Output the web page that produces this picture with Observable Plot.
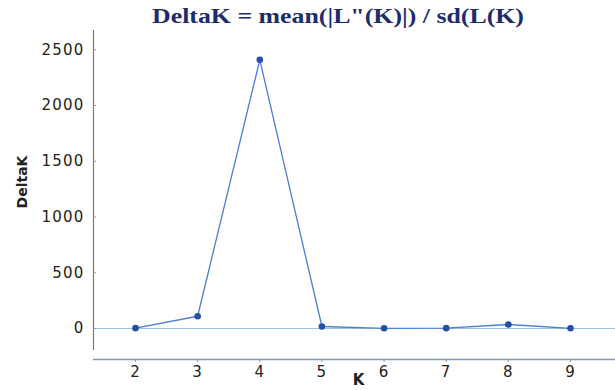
<!DOCTYPE html>
<html>
<head>
<meta charset="utf-8">
<script src="https://cdn.jsdelivr.net/npm/d3@7"></script>
<script src="https://cdn.jsdelivr.net/npm/@observablehq/plot@0.6"></script>
<style>
  html, body { margin: 0; padding: 0; background: #fff; }
  #wrap { width: 615px; height: 390px; position: relative; overflow: hidden; }
  #title { height: 30px; width: 615px; position: relative; }
  #title span {
    position: absolute; left: 338px; top: 4px;
    transform: translateX(-50%) scaleX(1.23);
    font-family: "Liberation Serif", "Times New Roman", serif;
    font-weight: bold; font-size: 21px; color: #1d2c6b; white-space: nowrap; line-height: 24px;
  }
  #chart svg { display: block; overflow: visible; }
  #chart svg g[aria-label$="tick label"] text { letter-spacing: 1.2px; }
</style>
</head>
<body>
<div id="wrap">
  <div id="title"><span>DeltaK = mean(|L"(K)|) / sd(L(K)</span></div>
  <div id="chart"></div>
</div>
<script>
const kValues = [2, 3, 4, 5, 6, 7, 8, 9];
const deltaK = [3, 110, 2410, 18, 2, 3, 36, 2];
const yTicks = [0, 500, 1000, 1500, 2000, 2500];
const xDomain = [1.324, 9.724];
const yDomain = [-278, 2673];
const yAxisExtent = [-197, 2673];

const data = kValues.map((k, i) => ({K: k, DeltaK: deltaK[i]}));

const chart = Plot.plot({
  width: 615,
  height: 360,
  marginTop: 0,
  marginBottom: 31,
  marginLeft: 93,
  marginRight: 0,
  style: {fontFamily: "'DejaVu Sans', sans-serif", fontSize: "15px", color: "#222", background: "#fff"},
  x: {type: "linear", domain: xDomain},
  y: {type: "linear", domain: yDomain},
  marks: [
    Plot.ruleY([0], {stroke: "#9fc4e2", strokeWidth: 1}),
    Plot.ruleY([yDomain[0]], {stroke: "#7f9bb3", strokeWidth: 1.5}),
    Plot.ruleX([xDomain[0]], {y1: yAxisExtent[0], y2: yAxisExtent[1], stroke: "#8a7468", strokeWidth: 1.2}),
    Plot.axisY({ticks: yTicks, tickSize: 0, tickPadding: 9, tickFormat: d => String(d), label: null, fill: "#222"}),
    Plot.ruleY(yTicks, {x1: xDomain[0], x2: xDomain[0], insetRight: -3, stroke: "#999", strokeWidth: 1}),
    Plot.axisX({ticks: kValues, tickSize: 3, tickPadding: 4, tickFormat: d => String(d), label: null, stroke: "#999", fill: "#222"}),
    Plot.line(data, {x: "K", y: "DeltaK", stroke: "#4a7fd6", strokeWidth: 1.3}),
    Plot.dot(data, {x: "K", y: "DeltaK", r: 3.3, fill: "#2450a8", stroke: "none"}),
    Plot.text(["K"], {frameAnchor: "bottom", textAnchor: "middle", lineAnchor: "middle", dx: 4, dy: 21, fontSize: 15, fontWeight: "bold", fill: "#222"}),
    Plot.text(["DeltaK"], {frameAnchor: "left", textAnchor: "middle", lineAnchor: "middle", dx: -71, dy: -13, rotate: -90, fontSize: 14, fontWeight: "bold", fill: "#222"})
  ]
});
document.getElementById("chart").appendChild(chart);
</script>
</body>
</html>
